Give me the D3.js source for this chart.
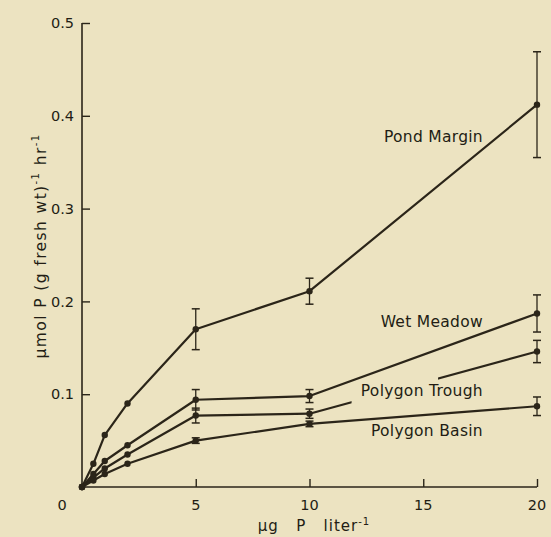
<!DOCTYPE html>
<html>
<head>
<meta charset="utf-8">
<script src="https://cdn.jsdelivr.net/npm/d3@7"></script>
<style>
  html, body { margin: 0; padding: 0; background: #ECE3C1; }
  svg { display: block; }
  text { font-family: "DejaVu Sans", sans-serif; fill: #221D14; }
</style>
</head>
<body>
<svg id="chart" width="551" height="537"></svg>
<script>
// ---- data ----
const xValues = [0, 0.5, 1, 2, 5, 10, 20];
const pondMargin   = [0, 0.025, 0.056, 0.090, 0.170, 0.211, 0.412];
const pondErr      = [0, 0, 0, 0, 0.022, 0.014, 0.057];
const wetMeadow    = [0, 0.014, 0.028, 0.045, 0.094, 0.098, 0.187];
const wetErr       = [0, 0, 0, 0, 0.011, 0.007, 0.020];
const polyTrough   = [0, 0.010, 0.020, 0.035, 0.077, 0.079, 0.146];
const troughErr    = [0, 0, 0, 0, 0.008, 0.005, 0.012];
const polyBasin    = [0, 0.007, 0.014, 0.025, 0.050, 0.068, 0.087];
const basinErr     = [0, 0, 0, 0, 0.003, 0.003, 0.010];
const seriesNames  = ["Pond Margin", "Wet Meadow", "Polygon Trough", "Polygon Basin"];
const xTicks = [5, 10, 15, 20];
const yTicks = [0.1, 0.2, 0.3, 0.4, 0.5];

const series = [
  {name: seriesNames[0], vals: pondMargin, err: pondErr},
  {name: seriesNames[1], vals: wetMeadow, err: wetErr},
  {name: seriesNames[2], vals: polyTrough, err: troughErr},
  {name: seriesNames[3], vals: polyBasin, err: basinErr}
];

// ---- layout ----
const ink = "#2B2519";
const bg = "#ECE3C1";
const svg = d3.select("#chart");
svg.append("rect").attr("width", 551).attr("height", 537).attr("fill", bg);

const x = d3.scaleLinear().domain([0, 20]).range([82, 537]);
const y = d3.scaleLinear().domain([0, 0.5]).range([487, 23]);

// axes
const yAxis = d3.axisRight(y).tickValues(yTicks).tickSize(8).tickFormat("");
const gy = svg.append("g").attr("transform", `translate(${x(0)},0)`).call(yAxis);
const xAxis = d3.axisTop(x).tickValues(xTicks).tickSize(8).tickFormat("");
const gx = svg.append("g").attr("transform", `translate(0,${y(0)})`).call(xAxis);
[gx, gy].forEach(g => {
  g.select(".domain").attr("stroke", ink).attr("stroke-width", 1.6);
  g.selectAll(".tick line").attr("stroke", ink).attr("stroke-width", 1.4);
});
gy.select(".domain").attr("d", `M0,${y(0)}V${y(0.5)}`);
gx.select(".domain").attr("d", `M${x(0)},0H${x(20)}`);

// tick labels
svg.append("g").selectAll("text").data(yTicks).join("text")
  .attr("x", 74).attr("y", d => y(d)).attr("dy", "0.36em")
  .attr("text-anchor", "end").attr("font-size", 14.5)
  .text(d => d.toFixed(1));
svg.append("g").selectAll("text").data(xTicks).join("text")
  .attr("x", d => x(d)).attr("y", 510)
  .attr("text-anchor", "middle").attr("font-size", 14.5)
  .text(d => d);
svg.append("text").attr("x", 62).attr("y", 510).attr("text-anchor", "middle")
  .attr("font-size", 14.5).text("0");

// axis titles
const xt = svg.append("text").attr("x", 314).attr("y", 531)
  .attr("text-anchor", "middle").attr("font-size", 15)
  .attr("letter-spacing", 1)
  .style("white-space", "pre");
xt.append("tspan").text("\u03bcg   P   liter");
xt.append("tspan").attr("dy", -6).attr("font-size", 10).text("-1");

const yt = svg.append("text")
  .attr("transform", "translate(46,246) rotate(-90)")
  .attr("text-anchor", "middle").attr("font-size", 15.5)
  .attr("letter-spacing", 1.4)
  .style("white-space", "pre");
yt.append("tspan").text("\u03bcmol P (g fresh wt)");
yt.append("tspan").attr("dy", -7).attr("font-size", 10).text("-1");
yt.append("tspan").attr("dy", 7).text(" hr");
yt.append("tspan").attr("dy", -7).attr("font-size", 10).text("-1");

// mask for the gap in Polygon Trough line behind its label
const gapFrom = 11.85, gapTo = 15.65;
const defs = svg.append("defs");
const mask = defs.append("mask").attr("id", "troughGap");
mask.append("rect").attr("width", 551).attr("height", 537).attr("fill", "white");
mask.append("rect").attr("x", x(gapFrom)).attr("y", y(0.125))
  .attr("width", x(gapTo) - x(gapFrom)).attr("height", y(0.08) - y(0.125))
  .attr("fill", "black");

const line = d3.line().x((d, i) => x(xValues[i])).y(d => y(d));

series.forEach((s, si) => {
  const g = svg.append("g");
  g.append("path").attr("d", line(s.vals))
    .attr("fill", "none").attr("stroke", ink).attr("stroke-width", 2.2)
    .attr("stroke-linejoin", "round")
    .attr("mask", si === 2 ? "url(#troughGap)" : null);
  // error bars
  s.vals.forEach((v, i) => {
    const e = s.err[i];
    if (e > 0) {
      const cx = x(xValues[i]);
      g.append("line").attr("x1", cx).attr("x2", cx)
        .attr("y1", y(v + e)).attr("y2", y(v - e))
        .attr("stroke", ink).attr("stroke-width", 1.3);
      [v + e, v - e].forEach(b => {
        g.append("line").attr("x1", cx - 4).attr("x2", cx + 4)
          .attr("y1", y(b)).attr("y2", y(b))
          .attr("stroke", ink).attr("stroke-width", 1.5);
      });
    }
  });
  g.selectAll("circle").data(s.vals).join("circle")
    .attr("cx", (d, i) => x(xValues[i])).attr("cy", d => y(d))
    .attr("r", 3.2).attr("fill", ink);
});

// series labels
const labelBase = [142, 327, 396, 436];
svg.append("g").selectAll("text").data(seriesNames).join("text")
  .attr("x", 483).attr("y", (d, i) => labelBase[i])
  .attr("text-anchor", "end").attr("font-size", 15.5)
  .attr("letter-spacing", 0.3)
  .text(d => d);
</script>
</body>
</html>
